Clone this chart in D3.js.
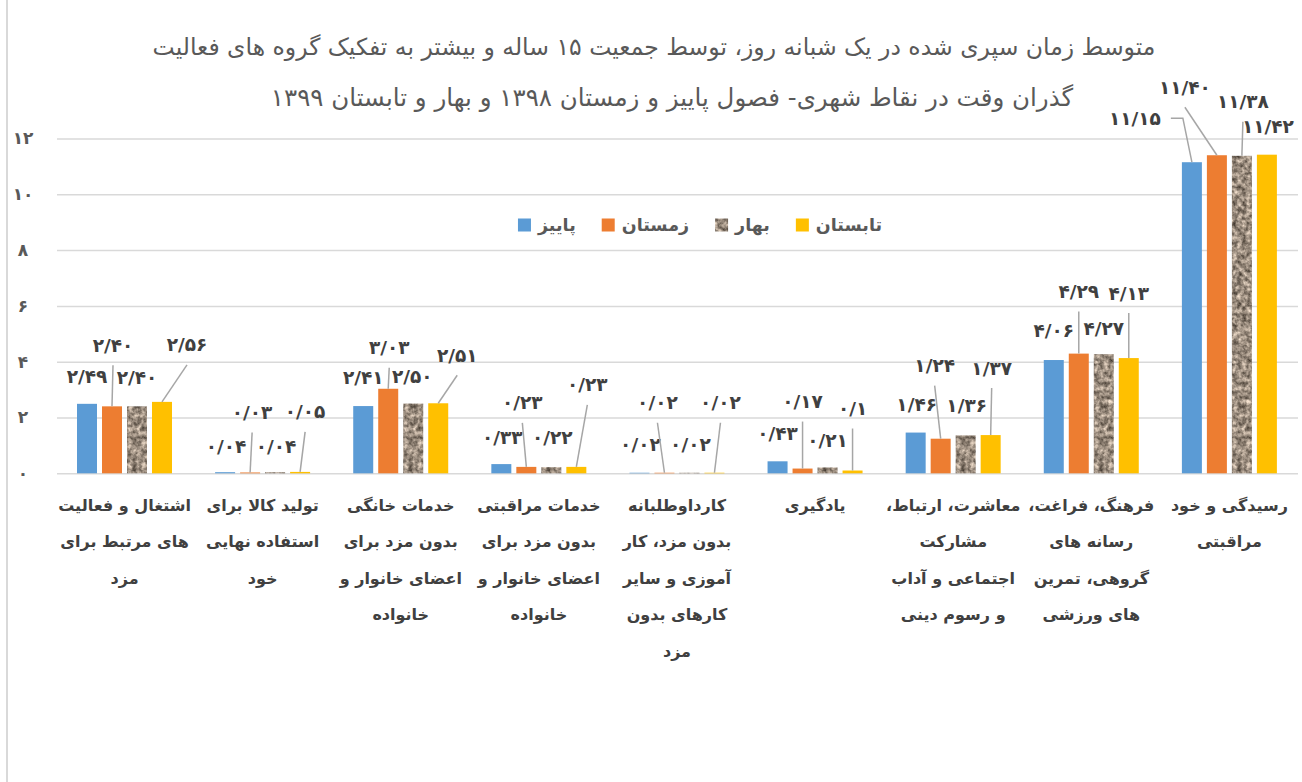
<!DOCTYPE html>
<html>
<head>
<meta charset="utf-8">
<script src="https://cdn.jsdelivr.net/npm/d3@7"></script>
<style>
  body { margin: 0; background: #fff; }
  text { font-family: "DejaVu Sans", sans-serif; }
</style>
</head>
<body>
<div id="chart"></div>
<script>
// categories (line breaks as in the original chart)
const categories = [
    "اشتغال و فعالیت\nهای مرتبط برای\nمزد",
    "تولید کالا برای\nاستفاده نهایی\nخود",
    "خدمات خانگی\nبدون مزد برای\nاعضای خانوار و\nخانواده",
    "خدمات مراقبتی\nبدون مزد برای\nاعضای خانوار و\nخانواده",
    "کارداوطلبانه\nبدون مزد، کار\nآموزی و سایر\nکارهای بدون\nمزد",
    "یادگیری",
    "معاشرت، ارتباط،\nمشارکت\nاجتماعی و آداب\nو رسوم دینی",
    "فرهنگ، فراغت،\nرسانه های\nگروهی، تمرین\nهای ورزشی",
    "رسیدگی و خود\nمراقبتی"
];
const seriesNames = ["پاییز", "زمستان", "بهار", "تابستان"];

const paeez    = [2.49, 0.04, 2.41, 0.33, 0.02, 0.43, 1.46, 4.06, 11.15];
const zemestan = [2.40, 0.03, 3.03, 0.23, 0.02, 0.17, 1.24, 4.29, 11.40];
const bahar    = [2.40, 0.04, 2.50, 0.22, 0.02, 0.21, 1.36, 4.27, 11.38];
const tabestan = [2.56, 0.05, 2.51, 0.23, 0.02, 0.1, 1.37, 4.13, 11.42];

const yTicks = [0, 2, 4, 6, 8, 10, 12];

const titleLines = [
    "متوسط زمان سپری شده در یک شبانه روز، توسط جمعیت ۱۵ ساله و بیشتر به تفکیک گروه های فعالیت",
    "گذران وقت در نقاط شهری- فصول پاییز و زمستان ۱۳۹۸ و بهار و تابستان ۱۳۹۹"
];

// manual label placement (dx, dy from top of bar), like dragged labels in the original
const labelNudge = [
    [[0, -27], [1, -61], [0, -29], [25, -57]],
    [[1, -26], [2, -60], [1, -26], [5, -60]],
    [[0, -29], [1, -41], [-1, -27], [19, -48]],
    [[1, -27], [-4, -64], [1, -30], [11, -82]],
    [[1, -28], [-7, -70], [1, -28], [6, -70]],
    [[0, -28], [0, -67], [0, -27], [0, -62]],
    [[1, -28], [-6, -73], [1, -30], [1, -67]],
    [[0, -30], [0, -62], [0, -26], [0, -65]],
    [[-57, -44], [-32, -68], [1, -54], [1, -28]]
];

const seriesValues = [paeez, zemestan, bahar, tabestan];
const colors = ["#5B9BD5", "#ED7D31", "#9c8d7e", "#FFC000"];

const W = 1302, H = 782;
const faDigits = s => s.replace(/[0-9]/g, d => String.fromCharCode(0x06F0 + +d));
const fmt = v => faDigits((v < 1 && Math.round(v * 100) % 10 === 0 ? v.toFixed(1) : v.toFixed(2)).replace(".", "/"));

const svg = d3.select("#chart").append("svg")
    .attr("width", W)
    .attr("height", H);

// granite texture for the spring series
const defs = svg.append("defs");
const filt = defs.append("filter").attr("id", "granite")
    .attr("x", 0).attr("y", 0).attr("width", 1).attr("height", 1)
    .attr("color-interpolation-filters", "sRGB");
filt.append("feTurbulence")
    .attr("type", "fractalNoise")
    .attr("baseFrequency", 0.22)
    .attr("numOctaves", 3)
    .attr("seed", 3)
    .attr("result", "noise");
filt.append("feColorMatrix")
    .attr("in", "noise")
    .attr("type", "matrix")
    .attr("values", "0.95 0 0 0 0.13  0.9 0 0 0 0.1  0.85 0 0 0 0.07  0 0 0 0 1")
    .attr("result", "tex");
filt.append("feComposite")
    .attr("in", "tex")
    .attr("in2", "SourceGraphic")
    .attr("operator", "in");

// frame edge
svg.append("line")
    .attr("x1", 7).attr("x2", 7)
    .attr("y1", 0).attr("y2", H)
    .attr("stroke", "#d9d9d9")
    .attr("stroke-width", 2);

// title
svg.append("g").selectAll("text")
    .data(titleLines)
    .join("text")
    .attr("x", (d, i) => i === 0 ? 654 : 672)
    .attr("y", (d, i) => 47 + i * 50)
    .attr("dy", "0.35em")
    .attr("text-anchor", "middle")
    .attr("direction", "rtl")
    .attr("font-size", (d, i) => i === 0 ? 23.5 : 24.5)
    .attr("fill", "#595959")
    .text(d => d);

const x0 = d3.scaleBand()
    .domain(categories)
    .range([55.5, 1298.5])
    .padding(0);

const x1 = d3.scaleBand()
    .domain(seriesNames)
    .range([21.5, 116.5])
    .paddingInner(0.2);

const y = d3.scaleLinear()
    .domain([0, 12])
    .range([473.3, 138.5]);

// y axis with grid
const yAxis = svg.append("g")
    .attr("transform", "translate(57,0)")
    .call(d3.axisLeft(y).tickValues(yTicks)
        .tickSize(-(1298 - 57))
        .tickFormat(d => faDigits(String(d))));
yAxis.select(".domain").remove();
yAxis.selectAll(".tick line")
    .attr("stroke", "#d9d9d9")
    .attr("stroke-width", 1.5);
yAxis.selectAll(".tick text")
    .attr("x", -34)
    .attr("text-anchor", "middle")
    .attr("font-size", 17)
    .attr("font-weight", "bold")
    .attr("fill", "#595959");

// bars
const rows = categories.map((c, i) => ({
    cat: c,
    idx: i,
    vals: seriesNames.map((s, j) => ({ s, j, v: seriesValues[j][i], ci: i }))
}));

const groups = svg.append("g").selectAll("g")
    .data(rows)
    .join("g")
    .attr("transform", d => `translate(${x0(d.cat)},0)`);

groups.selectAll("rect")
    .data(d => d.vals)
    .join("rect")
    .attr("x", d => x1(d.s))
    .attr("y", d => y(d.v))
    .attr("width", x1.bandwidth())
    .attr("height", d => y(0) - y(d.v))
    .attr("fill", d => colors[d.j])
    .attr("filter", d => d.j === 2 ? "url(#granite)" : null);

// data labels + leader lines
const lab = groups.selectAll("g.lab")
    .data(d => d.vals)
    .join("g")
    .attr("class", "lab");

lab.each(function(d) {
    const g = d3.select(this);
    const bx = x1(d.s) + x1.bandwidth() / 2;
    const by = y(d.v);
    const [dx, dy] = labelNudge[d.ci][d.j];
    const lx = bx + dx, ly = by + dy;
    const t = g.append("text")
        .attr("x", lx)
        .attr("y", ly)
        .attr("dy", "0.35em")
        .attr("text-anchor", "middle")
        .attr("font-size", 18.5)
        .attr("font-weight", "bold")
        .attr("fill", "#404040")
        .text(fmt(d.v));
    if (dy < -36) {
        let pts;
        if (Math.abs(dx) > 40) {
            const w = t.node().getComputedTextLength();
            const sx = lx + w / 2 + 10;
            pts = [[sx, ly], [sx + 12, ly], [bx, by]];
        } else {
            pts = [[lx, ly + 20], [bx, by]];
        }
        g.append("path")
            .attr("d", d3.line()(pts))
            .attr("fill", "none")
            .attr("stroke", "#a6a6a6")
            .attr("stroke-width", 1.5);
    }
});

// category labels
groups.append("text")
    .attr("text-anchor", "middle")
    .attr("direction", "rtl")
    .attr("font-size", 16)
    .attr("font-weight", "bold")
    .attr("fill", "#404040")
    .selectAll("tspan")
    .data(d => d.cat.split("\n"))
    .join("tspan")
    .attr("x", x0.bandwidth() / 2)
    .attr("y", (d, i) => 505 + i * 36.5)
    .attr("dy", "0.35em")
    .text(d => d);

// legend
const legend = svg.append("g");
const items = legend.selectAll("g")
    .data(seriesNames)
    .join("g");
items.append("rect")
    .attr("width", 13)
    .attr("height", 13)
    .attr("y", 225 - 6.5)
    .attr("fill", (d, i) => colors[i])
    .attr("filter", (d, i) => i === 2 ? "url(#granite)" : null);
items.append("text")
    .attr("y", 225)
    .attr("dy", "0.35em")
    .attr("text-anchor", "middle")
    .attr("direction", "rtl")
    .attr("font-size", 17.5)
    .attr("font-weight", "bold")
    .attr("fill", "#595959")
    .text(d => d);

const widths = [];
items.select("text").each(function() { widths.push(this.getComputedTextLength()); });
const itemW = widths.map(w => 13 + 7 + w);
const gap = 26;
const total = d3.sum(itemW) + gap * (itemW.length - 1);
let cx = 700 - total / 2;
items.each(function(d, i) {
    const g = d3.select(this);
    g.select("rect").attr("x", cx);
    g.select("text").attr("x", cx + 20 + widths[i] / 2);
    cx += itemW[i] + gap;
});
</script>
</body>
</html>
